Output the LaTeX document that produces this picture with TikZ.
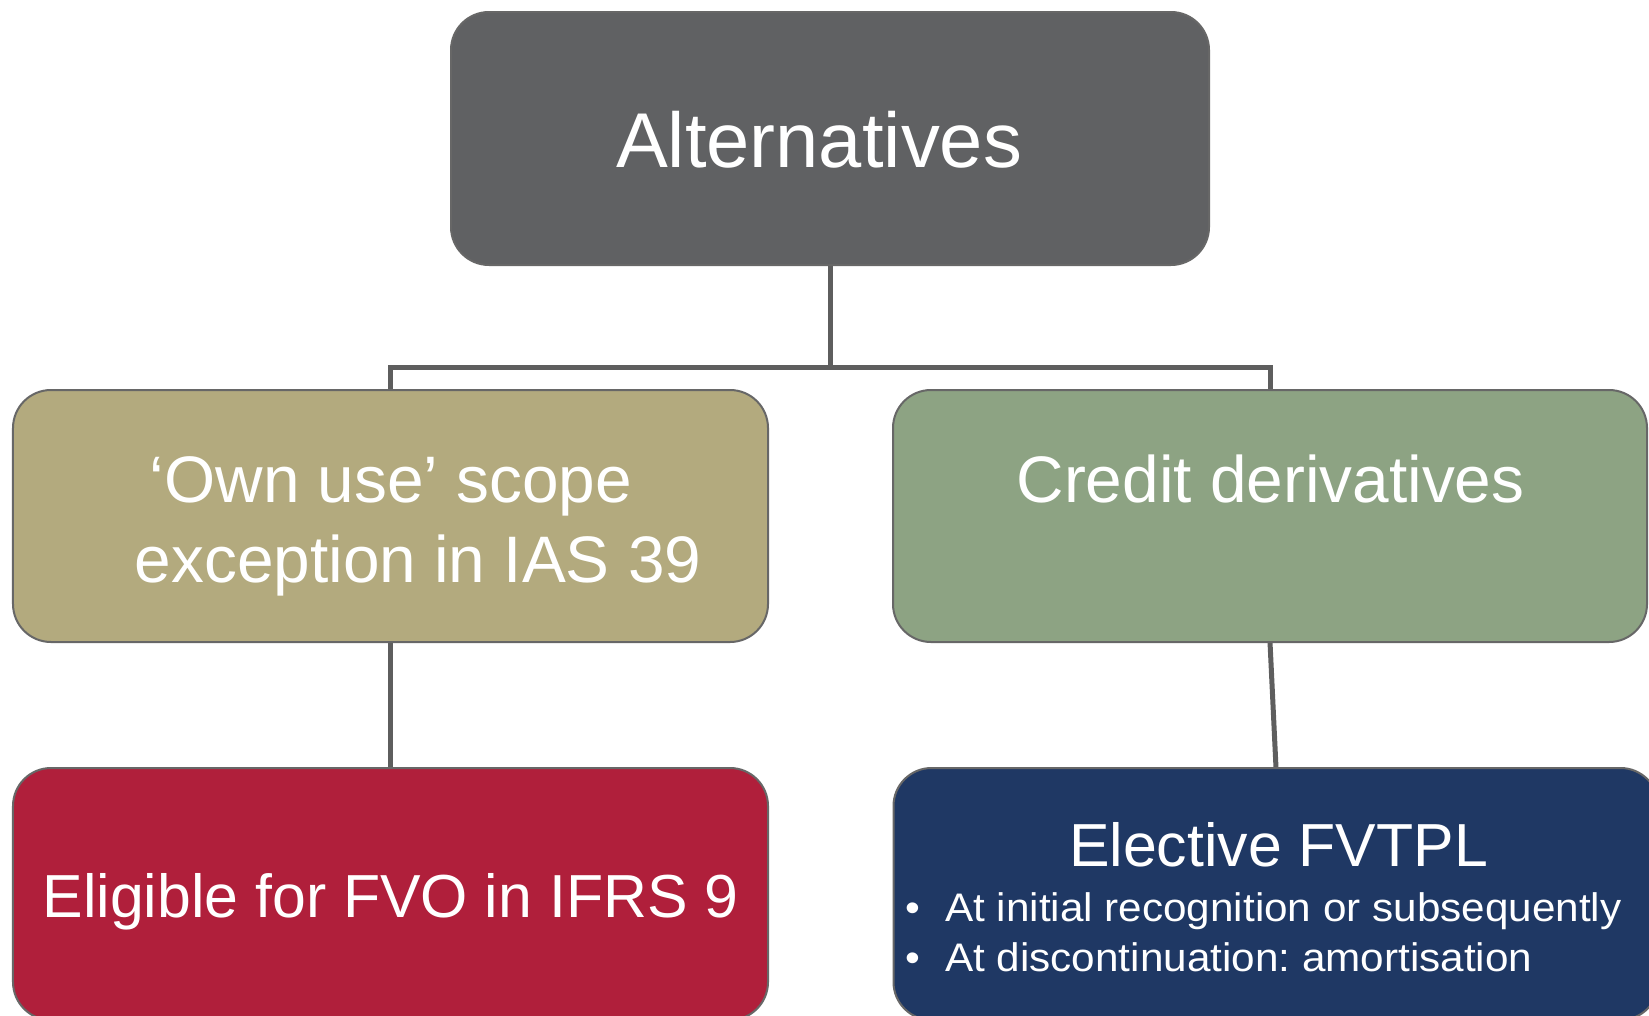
\documentclass[tikz,border=0pt]{standalone}
\usepackage{fontspec}
\setmainfont{Liberation Sans}
\newfontfamily\widesans[FakeStretch=1.06]{Liberation Sans}
\frenchspacing
\definecolor{boxedge}{HTML}{676767}
\definecolor{linkgray}{HTML}{5E5E5E}
\definecolor{rootfill}{HTML}{606163}
\definecolor{olivefill}{HTML}{B3AA7E}
\definecolor{sagefill}{HTML}{8DA383}
\definecolor{crimsonfill}{HTML}{B01F3B}
\definecolor{navyfill}{HTML}{1F3864}
\begin{document}
\begin{tikzpicture}[x=1bp,y=-1bp,
  box/.style={draw=boxedge, line width=2bp, rounded corners=38bp, inner sep=0pt,
              minimum width=755bp, minimum height=252bp},
  txt/.style={text=white, inner sep=0pt, anchor=base},
  link/.style={draw=linkgray, line width=5bp, line join=miter}]
\path[use as bounding box] (0,0) rectangle (1649,1015);
\clip (0,0) rectangle (1649,1015);

% connectors, drawn first so that the boxes sit on top of their ends
\coordinate (split) at (830,367);
\node[inner sep=0pt, minimum width=758bp, minimum height=253bp] (root) at (830,138.5) {};
\node[inner sep=0pt, minimum width=755bp, minimum height=252bp] (own) at (390.5,516) {};
\node[inner sep=0pt, minimum width=754bp, minimum height=252bp] (credit) at (1270,516) {};
\node[inner sep=0pt, minimum width=755bp, minimum height=252bp] (fvo) at (390.5,894) {};
\node[inner sep=0pt, minimum width=765bp, minimum height=252bp] (fvtpl) at (1276,894) {};
\draw[link] (root.south) -- (split);
\draw[link] (own.north) |- (split) -| (credit.north);
\draw[link] (own.south) -- (fvo.north);
\draw[link] (credit.south) -- (fvtpl.north);

% boxes
\node[box, fill=rootfill, minimum width=758bp, minimum height=253bp] (rootbox) at (root) {};
\node[box, fill=olivefill] (ownbox) at (own) {};
\node[box, fill=sagefill, minimum width=754bp] (creditbox) at (credit) {};
\node[box, fill=crimsonfill] (fvobox) at (fvo) {};
\node[box, fill=navyfill, minimum width=765bp] (fvtplbox) at (fvtpl) {};

% texts
\node[txt, font=\fontsize{78}{90}\selectfont] (rootT) at (819,167) {Alternatives};
\node[txt, font=\fontsize{66}{80}\selectfont] (ownA) at (391,502) {‘Own use’ scope};
\node[txt, font=\fontsize{66}{80}\selectfont] (ownB) at (418,582) {exception in IAS 39};
\node[txt, font=\fontsize{66}{80}\selectfont] (creditT) at (1270.5,502) {Credit derivatives};
\node[txt, font=\fontsize{61}{72}\selectfont] (fvoT) at (390.5,917) {Eligible for FVO in IFRS 9};
\node[txt, font=\fontsize{61}{72}\selectfont] (fvtplT) at (1278.5,866.5) {Elective FVTPL};
\node[txt, anchor=base west, font=\widesans\fontsize{40}{50}\selectfont] (dotA) at (905.5,921.5) {•};
\node[txt, anchor=base west, font=\widesans\fontsize{40}{50}\selectfont] (itemA) at (945,921.5) {At initial recognition or subsequently};
\node[txt, anchor=base west, font=\widesans\fontsize{40}{50}\selectfont] (dotB) at (905.5,971.5) {•};
\node[txt, anchor=base west, font=\widesans\fontsize{40}{50}\selectfont] (itemB) at (945,971.5) {At discontinuation: amortisation};
\end{tikzpicture}
\end{document}
